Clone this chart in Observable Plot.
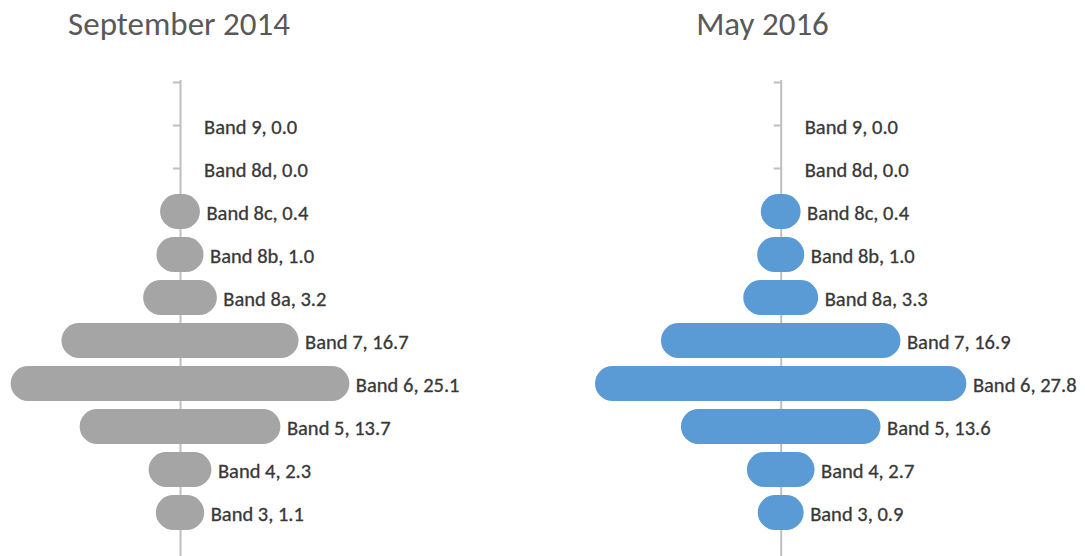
<!DOCTYPE html>
<html>
<head>
<meta charset="utf-8">
<script src="https://cdn.jsdelivr.net/npm/d3@7"></script>
<script src="https://cdn.jsdelivr.net/npm/@observablehq/plot@0.6"></script>
<style>
  html, body { margin: 0; padding: 0; background: #fff; }
  #wrap { display: flex; flex-direction: row; width: 1085px; height: 556px; overflow: hidden; }
  .panel { position: relative; }
  .title { height: 50px; position: relative; }
  .title span { position: absolute; top: 8px; transform: translateX(-50%); white-space: nowrap;
    font-family: Calibri, Carlito, Lato, sans-serif; font-size: 33px; line-height: 33px; color: #595959; }
  svg { display: block; }
</style>
</head>
<body>
<div id="wrap"></div>
<script>
// ---- data ----
const bands = ["Band 9", "Band 8d", "Band 8c", "Band 8b", "Band 8a", "Band 7", "Band 6", "Band 5", "Band 4", "Band 3"];
const sep2014 = [0.0, 0.0, 0.4, 1.0, 3.2, 16.7, 25.1, 13.7, 2.3, 1.1];
const may2016 = [0.0, 0.0, 0.4, 1.0, 3.3, 16.9, 27.8, 13.6, 2.7, 0.9];
const titles = ["September 2014", "May 2016"];
const colors = ["#a5a5a5", "#5b9bd5"];

// ---- layout ----
const K = 12.1; // px per unit
const panels = [
  {title: titles[0], values: sep2014, color: colors[0], width: 542, axisX: 180, titleX: 179},
  {title: titles[1], values: may2016, color: colors[1], width: 543, axisX: 238.7, titleX: 220.5}
];

function panel(p) {
  const rows = bands.map((b, i) => ({band: b, v: p.values[i]}));
  const yDomain = ["", ...bands];
  return Plot.plot({
    width: p.width,
    height: 506,
    marginTop: 30, marginBottom: 0, marginLeft: 0, marginRight: 0,
    style: {fontFamily: "Calibri, Carlito, Lato, sans-serif", background: "white", overflow: "visible"},
    x: {domain: [-p.axisX / K, (p.width - p.axisX) / K], range: [0, p.width], axis: null},
    y: {type: "point", domain: yDomain, range: [30, 464], padding: 0, axis: null},
    marks: [
      Plot.ruleX([0], {stroke: "#bfbfbf", strokeWidth: 2}),
      Plot.ruleY(yDomain, {y: d => d, x1: 0, x2: 0, insetLeft: -7, stroke: "#bfbfbf", strokeWidth: 2}),
      Plot.ruleY(rows, {
        filter: d => d.v > 0,
        y: "band", x1: d => -d.v / 2, x2: d => d.v / 2,
        stroke: p.color, strokeWidth: 35, strokeLinecap: "round"
      }),
      Plot.text(rows, {
        x: d => d.v / 2, y: "band",
        text: d => `${d.band}, ${d.v.toFixed(1)}`,
        textAnchor: "start", dx: 23.5, dy: 1.5,
        fontSize: 20.5, fill: "#383838", stroke: "#383838", strokeWidth: 0.3
      })
    ]
  });
}

const wrap = document.getElementById("wrap");
for (const p of panels) {
  const div = document.createElement("div");
  div.className = "panel";
  div.style.width = p.width + "px";
  const t = document.createElement("div");
  t.className = "title";
  const s = document.createElement("span");
  s.textContent = p.title;
  s.style.left = p.titleX + "px";
  t.appendChild(s);
  div.appendChild(t);
  div.appendChild(panel(p));
  wrap.appendChild(div);
}
</script>
</body>
</html>
